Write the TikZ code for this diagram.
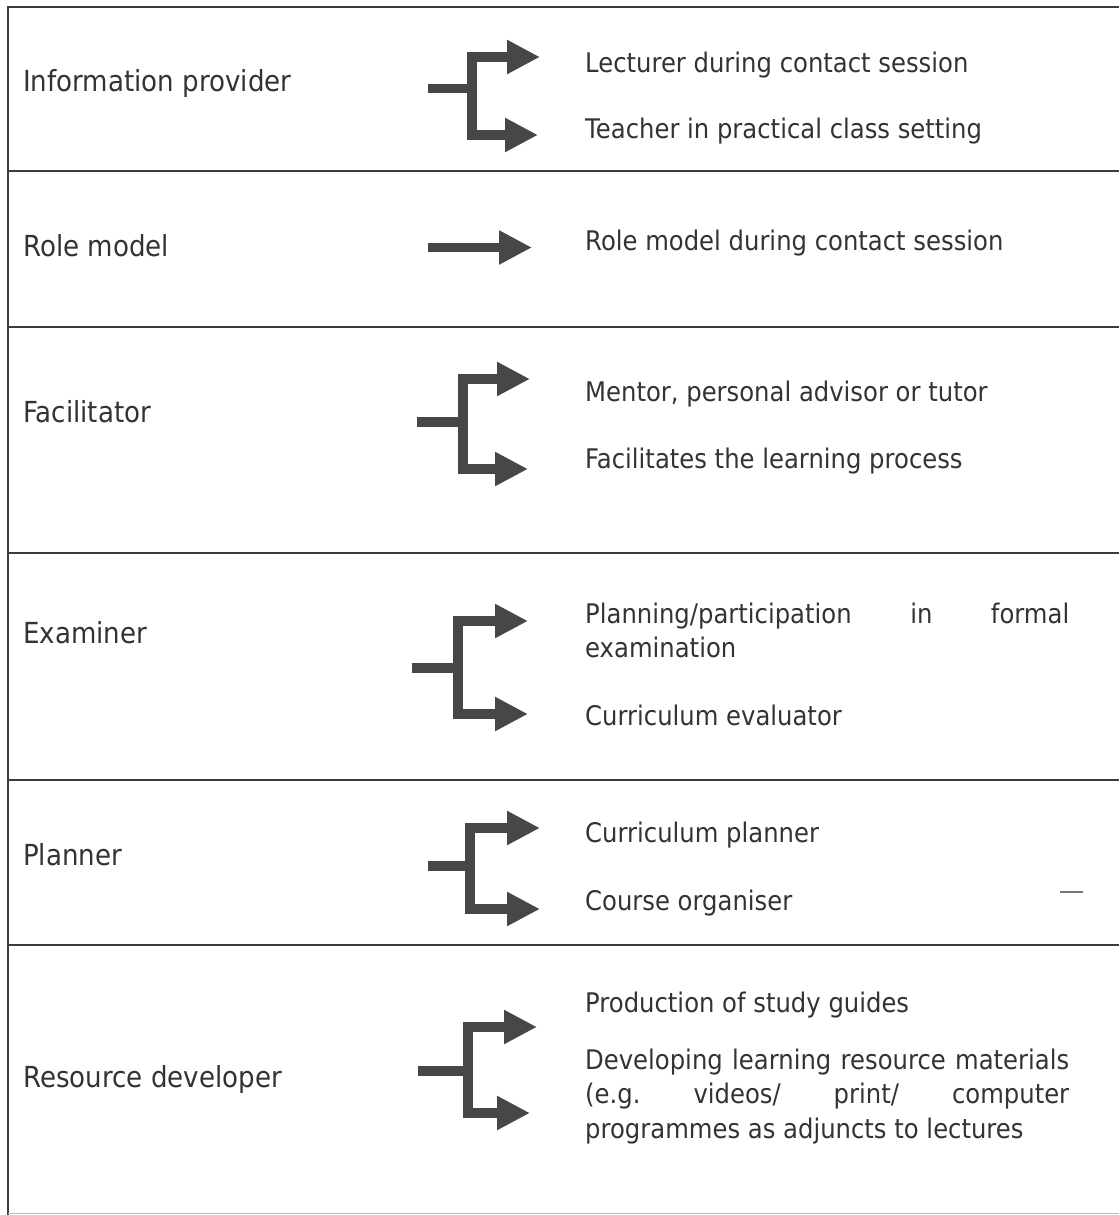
\documentclass[tikz,border=0pt]{standalone}
\usepackage{fontspec}
\setmainfont[FakeStretch=0.9]{DejaVu Sans}
\usetikzlibrary{arrows.meta}
\definecolor{ink}{HTML}{333333}
\definecolor{rulegray}{HTML}{3C3C3C}
\definecolor{arrowgray}{HTML}{474747}
\frenchspacing
\begin{document}
\begin{tikzpicture}[x=1pt,y=-1pt,
  rule/.style={draw=rulegray, line width=1.4pt},
  task/.style={anchor=base west, inner sep=0pt, text=ink,
    font=\fontsize{27}{34.5}\selectfont},
  role/.style={task, font=\fontsize{29}{35}\selectfont},
  para/.style={task, text width=484pt, align=justify},
  stem/.style={draw=arrowgray, line width=9.5pt},
  branch/.style={stem, -{Triangle[length=33pt,width=32pt]}},
]
\useasboundingbox (0,0) rectangle (1119,1215);

% table frame: top rule, left rule, row separators
\draw[rule] (1119,7) -- (8,7) -- (8,1215);
\foreach \y in {171,327,553,780,945}
  \draw[rule] (8,\y) -- (1119,\y);
\draw[draw=rulegray!35, line width=1pt] (8,1213) -- (1119,1213);
\draw[draw=rulegray!70, line width=1.6pt] (1060,892) -- (1083,892);

% left column: roles
\node[role] (r1) at (23,92)   {Information provider};
\node[role] (r2) at (23,256)  {Role model};
\node[role] (r3) at (23,422)  {Facilitator};
\node[role] (r4) at (23,643)  {Examiner};
\node[role] (r5) at (23,865)  {Planner};
\node[role] (r6) at (23,1087) {Resource developer};

% right column: activities
\node[task] (t1a) at (585,72)  {Lecturer during contact session};
\node[task] (t1b) at (585,138) {Teacher in practical class setting};
\node[task] (t2)  at (585,250) {Role model during contact session};
\node[task] (t3a) at (585,401) {Mentor, personal advisor or tutor};
\node[task] (t3b) at (585,468) {Facilitates the learning process};
\node[para] (t4a) at (585,623) {Planning/participation in formal\linebreak examination\par};
\node[task] (t4b) at (585,725) {Curriculum evaluator};
\node[task] (t5a) at (585,842) {Curriculum planner};
\node[task] (t5b) at (585,910) {Course organiser};
\node[task] (t6a) at (585,1012) {Production of study guides};
\node[para] (t6b) at (585,1069) {Developing learning resource materials\linebreak
  (e.g. videos/ print/ computer\linebreak programmes as adjuncts to lectures\par};

% fork connectors
\coordinate (s1) at (428,88.5);  \coordinate (j1) at (472,88.5);
\coordinate (u1) at (540,57);    \coordinate (d1) at (538,135);
\coordinate (s2) at (428,247.5); \coordinate (e2) at (532,247.5);
\coordinate (s3) at (417,422);   \coordinate (j3) at (463,422);
\coordinate (u3) at (530,379);   \coordinate (d3) at (528,469);
\coordinate (s4) at (412,668);   \coordinate (j4) at (458,668);
\coordinate (u4) at (528,621);   \coordinate (d4) at (528,714);
\coordinate (s5) at (428,866);   \coordinate (j5) at (470,866);
\coordinate (u5) at (540,828);   \coordinate (d5) at (540,909);
\coordinate (s6) at (418,1071);  \coordinate (j6) at (468,1071);
\coordinate (u6) at (537,1027);  \coordinate (d6) at (530,1113);

\foreach \i in {1,3,4,5,6} {
  \draw[stem] (s\i) -- (j\i);
  \draw[branch] (j\i) |- (u\i);
  \draw[branch] (j\i) |- (d\i);
}
\draw[branch] (s2) -- (e2);
\end{tikzpicture}
\end{document}
